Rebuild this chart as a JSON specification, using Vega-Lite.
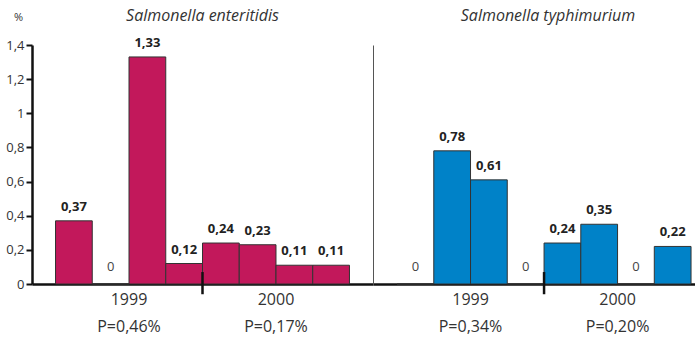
{
  "$schema": "https://vega.github.io/schema/vega-lite/v6.json",
  "padding": {"left": 5, "top": 8, "right": 0, "bottom": 18},
  "background": "white",
  "config": {
    "locale": {"number": {"decimal": ",", "thousands": ".", "grouping": [3], "currency": ["", " €"]}},
    "font": "Open Sans",
    "view": {"stroke": null},
    "concat": {"spacing": 0},
    "title": {"fontSize": 16, "fontStyle": "italic", "fontWeight": "normal", "color": "#333", "frame": "group", "offset": 21}
  },
  "data": {"values": [
    {"species": "Salmonella enteritidis", "period": "1999 P=0,46%", "sub": 1, "value": 0.37},
    {"species": "Salmonella enteritidis", "period": "1999 P=0,46%", "sub": 2, "value": 0},
    {"species": "Salmonella enteritidis", "period": "1999 P=0,46%", "sub": 3, "value": 1.33},
    {"species": "Salmonella enteritidis", "period": "1999 P=0,46%", "sub": 4, "value": 0.12},
    {"species": "Salmonella enteritidis", "period": "2000 P=0,17%", "sub": 1, "value": 0.24},
    {"species": "Salmonella enteritidis", "period": "2000 P=0,17%", "sub": 2, "value": 0.23},
    {"species": "Salmonella enteritidis", "period": "2000 P=0,17%", "sub": 3, "value": 0.11},
    {"species": "Salmonella enteritidis", "period": "2000 P=0,17%", "sub": 4, "value": 0.11},
    {"species": "Salmonella typhimurium", "period": "1999 P=0,34%", "sub": 1, "value": 0},
    {"species": "Salmonella typhimurium", "period": "1999 P=0,34%", "sub": 2, "value": 0.78},
    {"species": "Salmonella typhimurium", "period": "1999 P=0,34%", "sub": 3, "value": 0.61},
    {"species": "Salmonella typhimurium", "period": "1999 P=0,34%", "sub": 4, "value": 0},
    {"species": "Salmonella typhimurium", "period": "2000 P=0,20%", "sub": 1, "value": 0.24},
    {"species": "Salmonella typhimurium", "period": "2000 P=0,20%", "sub": 2, "value": 0.35},
    {"species": "Salmonella typhimurium", "period": "2000 P=0,20%", "sub": 3, "value": 0},
    {"species": "Salmonella typhimurium", "period": "2000 P=0,20%", "sub": 4, "value": 0.22}
  ]},
  "hconcat": [
    {
      "title": {"text": "Salmonella enteritidis", "offset": -13},
      "width": 341,
      "height": 239,
      "transform": [{"filter": "datum.species == 'Salmonella enteritidis'"}],
      "encoding": {
        "x": {"field": "period", "type": "nominal", "sort": null,
              "scale": {"paddingInner": 0, "paddingOuter": 0.16},
              "axis": {"title": null, "labelExpr": "split(datum.label, ' ')", "ticks": false, "domainColor": "#111", "domainWidth": 2.5, "labelFontSize": 16, "labelColor": "#333", "labelPadding": 7, "labelLineHeight": 27, "labelAngle": 0}},
        "y": {"field": "value", "type": "quantitative", "scale": {"domain": [0, 1.4]},
              "axis": {"values": [0, 0.2, 0.4, 0.6, 0.8, 1, 1.2, 1.4], "tickCount": 8, "format": ".1~f", "labelOverlap": false, "grid": false, "domainColor": "#111", "domainWidth": 2.5, "tickColor": "#111", "tickWidth": 2, "tickSize": 6, "labelFontSize": 13, "labelColor": "#333", "labelPadding": 2, "title": "%", "titleAngle": 0, "titleX": -14, "titleY": -28, "titleAlign": "center", "titleBaseline": "middle", "titleFontSize": 11, "titleFontWeight": "normal", "titleColor": "#333"}}
      },
      "layer": [
        {
          "mark": {"type": "bar", "color": "#C2185B", "stroke": "#333", "strokeWidth": 1},
          "encoding": {
            "xOffset": {"field": "sub", "type": "ordinal", "scale": {"paddingInner": 0, "paddingOuter": 0}}
          }
        },
        {
          "transform": [{"filter": "datum.value > 0"}],
          "mark": {"type": "text", "fontWeight": "bold", "fontSize": 13, "color": "#222", "baseline": "bottom", "dy": -7},
          "encoding": {
            "xOffset": {"field": "sub", "type": "ordinal"},
            "text": {"field": "value", "type": "quantitative", "format": ".2~f"}
          }
        },
        {
          "transform": [{"filter": "datum.value == 0"}],
          "mark": {"type": "text", "fontSize": 13, "color": "#444", "baseline": "bottom", "dy": -10},
          "encoding": {
            "xOffset": {"field": "sub", "type": "ordinal"},
            "text": {"field": "value", "type": "quantitative", "format": ".2~f"}
          }
        },
        {
          "transform": [{"filter": "datum.sub == 1 && indexof(datum.period, '2000') == 0"}],
          "mark": {"type": "rule", "color": "#111", "strokeWidth": 2.5},
          "encoding": {
            "x": {"field": "period", "type": "nominal", "sort": null, "bandPosition": 0},
            "y": {"datum": -0.06, "type": "quantitative"},
            "y2": {"datum": 0.07}
          }
        }
      ]
    },
    {
      "title": {"text": "Salmonella typhimurium", "dx": 14},
      "width": 322,
      "height": 239,
      "transform": [{"filter": "datum.species == 'Salmonella typhimurium'"}],
      "encoding": {
        "x": {"field": "period", "type": "nominal", "sort": null,
              "scale": {"paddingInner": 0, "paddingOuter": 0.095, "align": 0.86},
              "axis": {"title": null, "labelExpr": "split(datum.label, ' ')", "ticks": false, "domainColor": "#111", "domainWidth": 2.5, "labelFontSize": 16, "labelColor": "#333", "labelPadding": 7, "labelLineHeight": 27, "labelAngle": 0}},
        "y": {"field": "value", "type": "quantitative", "scale": {"domain": [0, 1.4]},
              "axis": {"labels": false, "ticks": false, "title": null, "grid": false, "domainColor": "#555", "domainWidth": 1}}
      },
      "layer": [
        {
          "mark": {"type": "bar", "color": "#0082C8", "stroke": "#333", "strokeWidth": 1},
          "encoding": {
            "xOffset": {"field": "sub", "type": "ordinal", "scale": {"paddingInner": 0, "paddingOuter": 0}}
          }
        },
        {
          "transform": [{"filter": "datum.value > 0"}],
          "mark": {"type": "text", "fontWeight": "bold", "fontSize": 13, "color": "#222", "baseline": "bottom", "dy": -7},
          "encoding": {
            "xOffset": {"field": "sub", "type": "ordinal"},
            "text": {"field": "value", "type": "quantitative", "format": ".2~f"}
          }
        },
        {
          "transform": [{"filter": "datum.value == 0"}],
          "mark": {"type": "text", "fontSize": 13, "color": "#444", "baseline": "bottom", "dy": -10},
          "encoding": {
            "xOffset": {"field": "sub", "type": "ordinal"},
            "text": {"field": "value", "type": "quantitative", "format": ".2~f"}
          }
        },
        {
          "transform": [{"filter": "datum.sub == 1 && indexof(datum.period, '2000') == 0"}],
          "mark": {"type": "rule", "color": "#111", "strokeWidth": 2.5},
          "encoding": {
            "x": {"field": "period", "type": "nominal", "sort": null, "bandPosition": 0},
            "y": {"datum": -0.06, "type": "quantitative"},
            "y2": {"datum": 0.07}
          }
        }
      ]
    }
  ]
}
